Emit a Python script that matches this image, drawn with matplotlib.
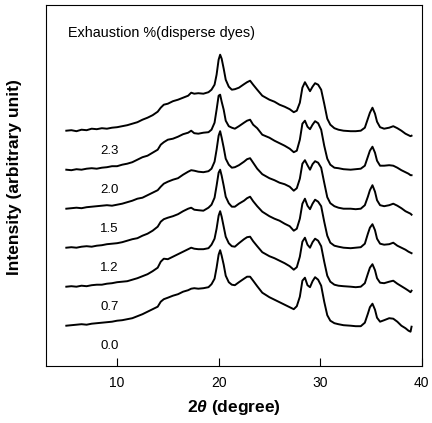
import matplotlib
matplotlib.use("Agg")
import matplotlib.pyplot as plt

plt.rcParams["font.family"] = ["Liberation Sans", "DejaVu Sans"]
plt.rcParams["mathtext.fontset"] = "custom"
plt.rcParams["mathtext.it"] = "Liberation Sans:italic:bold"
plt.rcParams["mathtext.rm"] = "Liberation Sans:bold"

# shared 2-theta grid (degree)
TWO_THETA = [5.0, 5.5, 6.0, 6.5, 7.0, 7.5, 8.0, 8.5, 9.0, 9.5,
             10.0, 10.5, 11.0, 11.5, 12.0, 12.5, 13.0, 13.5, 14.0, 14.3,
             14.6, 15.0, 15.5, 16.0, 16.5, 17.0, 17.3, 17.6, 18.0, 18.5,
             19.0, 19.3, 19.6, 19.8, 20.0, 20.15, 20.3, 20.5, 20.7, 21.0,
             21.3, 21.6, 22.0, 22.5, 22.8, 23.1, 23.4, 23.8, 24.3, 25.0,
             25.5, 26.0, 26.5, 27.0, 27.4, 27.7, 28.0, 28.25, 28.5, 28.75,
             29.0, 29.25, 29.5, 29.8, 30.1, 30.4, 30.7, 31.0, 31.4, 31.8,
             32.3, 33.0, 33.5, 34.0, 34.4, 34.7, 34.9, 35.15, 35.4, 35.6,
             35.9, 36.3, 36.8, 37.2, 37.6, 38.0, 38.4, 38.7, 38.9, 39.0]

# intensities (arbitrary unit), one pattern per exhaustion level
I_00 = [0, 0.5, 1, 1.5, 1, 2, 2.5, 3, 3.5, 4,
        5, 5.5, 6.5, 7.5, 9.5, 11.5, 14, 16.5, 19, 24,
        26.5, 28, 30, 31.5, 34, 35.5, 37, 37.5, 37, 37.5,
        38.5, 41.5, 47, 58, 71, 75.5, 70, 61, 50, 43.5,
        41, 40.5, 43.5, 47, 49, 49, 45, 39.5, 33, 28.5,
        26, 23.5, 21, 18.5, 16.5, 19.5, 29, 45, 48, 40.5,
        38.5, 44.5, 48.5, 46, 40, 24, 10.5, 5, 2.5, 1.5,
        0.5, 0, -0.5, -0.5, 3, 12, 18.5, 22, 16, 8,
        4, 5.5, 7.5, 7, 4, 0, -2.5, -5, -6, -1]

I_07 = [0, 0.5, 0, 1, 0.5, 1.5, 2, 2, 3, 3.5,
        4.5, 5, 5.5, 7, 8.5, 10.5, 12.5, 15.5, 19, 25,
        28, 27.5, 30, 32.5, 35, 37.5, 39, 38, 37.5, 37.5,
        38.5, 42, 48, 58, 71, 75.5, 70, 60, 50, 43.5,
        40.5, 40, 43.5, 47.5, 49.5, 50, 45.5, 40.5, 34.5, 30.5,
        28.5, 26, 23.5, 20.5, 17, 19.5, 30, 45, 49, 42,
        39, 44.5, 48, 46, 40.5, 25, 11, 5, 2, 1,
        0.5, 0, -0.5, 0, 3.5, 13, 19, 22.5, 16.5, 8.5,
        4, 3.5, 5, 6, 3, 0.5, -2, -4, -5.5, -4]

I_12 = [0, 0.5, 0, 1, 1.5, 1, 2, 2.5, 3.5, 4,
        4.5, 5.5, 7, 8.5, 9.5, 12, 14, 17, 21, 26,
        28.5, 30, 31.5, 33.5, 36.5, 39, 40, 38, 37.5, 37,
        40, 43, 50, 62, 75, 78, 72, 62, 51, 44.5,
        41, 41, 44, 47, 49.5, 51, 46.5, 41.5, 36, 31.5,
        29, 27, 24, 21.5, 17, 19, 29, 44, 49, 42,
        38.5, 44, 48, 46, 41.5, 26, 12, 5, 2, 1,
        0, -0.5, 0, 0.5, 4, 14, 20, 23.5, 17.5, 9,
        4, 3, 3.5, 5, 2, 0, -2, -4, -5, -5.5]

I_15 = [0, 0.5, 1, 0.5, 1.5, 2, 2.5, 3, 3.5, 3,
        4, 5, 6.5, 8, 10, 11, 13.5, 16, 18.5, 22,
        25, 27, 29, 30.5, 34, 37, 38.5, 38, 37, 36.5,
        37.5, 40, 47, 59, 73, 77.5, 71, 61, 50, 44,
        41, 41.5, 43.5, 47, 49.5, 50.5, 46, 40, 34.5, 30.5,
        28.5, 26, 24.5, 22, 18, 20.5, 30, 45, 48.5, 43.5,
        39, 44.5, 47.5, 46, 41, 26, 11.5, 5.5, 2.5, 1,
        0, 0, -0.5, 0, 3.5, 12, 18.5, 23.5, 17, 8.5,
        3.5, 2.5, 3.5, 5, 3, 0.5, -2.5, -4, -5, -6]

I_20 = [0, -0.5, 0.5, 0, 1, 1.5, 1, 2, 2.5, 3.5,
        3.5, 5, 6, 7.5, 10, 12.5, 14, 17, 20, 25,
        27.5, 30, 31, 33, 35.5, 37, 39, 36.5, 36, 37,
        37.5, 40, 47, 60, 74, 75, 68, 60, 49, 43.5,
        42, 41, 43.5, 47, 49, 50, 45, 41.5, 35, 32,
        29, 26.5, 24, 21, 17.5, 19, 30, 46, 49, 43,
        40.5, 45, 48.5, 46.5, 40, 24, 11, 5, 2, 1.5,
        0.5, 0, 0.5, 1, 4, 13, 19, 23, 17, 9,
        4, 4, 4.5, 4, 2, -0.5, -2.5, -4, -5.5, -5.5]

I_23 = [0, 0.5, -0.5, 1, 0.5, 2, 1.5, 2.5, 2, 3,
        3.5, 4.5, 5.5, 7, 8.5, 11, 13, 15.5, 19, 23,
        26, 27, 29.5, 31, 33, 35, 38, 37, 37.5, 37,
        38.5, 41, 46, 56, 71, 76, 72, 62, 51, 44,
        41, 41.5, 43, 46.5, 48.5, 50, 46, 41, 35, 31,
        29, 26, 24, 21.5, 18.5, 20, 28, 43, 48.5, 44,
        39.5, 44, 47.5, 46, 41, 27, 12, 6, 2.5, 1,
        0, -0.5, -0.5, 0, 3, 12, 18, 23, 17, 9,
        3.5, 2, 3, 4.5, 2.5, 0, -3, -4.5, -5.5, -5]

EXHAUSTION = ["0.0", "0.7", "1.2", "1.5", "2.0", "2.3"]
PATTERNS = [I_00, I_07, I_12, I_15, I_20, I_23]

BASE = 40.3      # vertical position of the lowest pattern
STEP = 39.0      # stacking offset between patterns
LABEL_X = 9.25
LABEL_DROP = 20.0

fig = plt.figure(figsize=(4.32, 4.23), dpi=100)
ax = fig.add_axes([46 / 432, 57 / 423, 375.7 / 432, 361 / 423])

for i, (lab, y) in enumerate(zip(EXHAUSTION, PATTERNS)):
    off = BASE + i * STEP
    ax.plot(TWO_THETA, [v + off for v in y], color="black", linewidth=1.4,
            solid_joinstyle="round")
    ax.text(LABEL_X, off - LABEL_DROP, lab, ha="center", va="center", fontsize=9.5)

ax.text(0.059, 0.922, "Exhaustion %(disperse dyes)", transform=ax.transAxes,
        ha="left", va="center", fontsize=10.4)

ax.set_xlim(3, 40)
ax.set_ylim(0, 361)
ax.set_xticks([10, 20, 30, 40])
ax.set_yticks([])
ax.tick_params(axis="x", direction="in", length=5.5, width=0.8, pad=7, labelsize=10)
for sp in ax.spines.values():
    sp.set_linewidth(0.8)

ax.set_xlabel(r"2$\theta$ (degree)", fontsize=12.5, fontweight="bold")
ax.xaxis.set_label_coords(0.5, -0.114)
ax.xaxis.label.set_verticalalignment("center")
ax.set_ylabel("Intensity (arbitrary unit)", fontsize=12.5, fontweight="bold")
ax.yaxis.set_label_coords(-0.083, 0.524)
ax.yaxis.label.set_verticalalignment("center")

fig.savefig("out.png", dpi=100)
